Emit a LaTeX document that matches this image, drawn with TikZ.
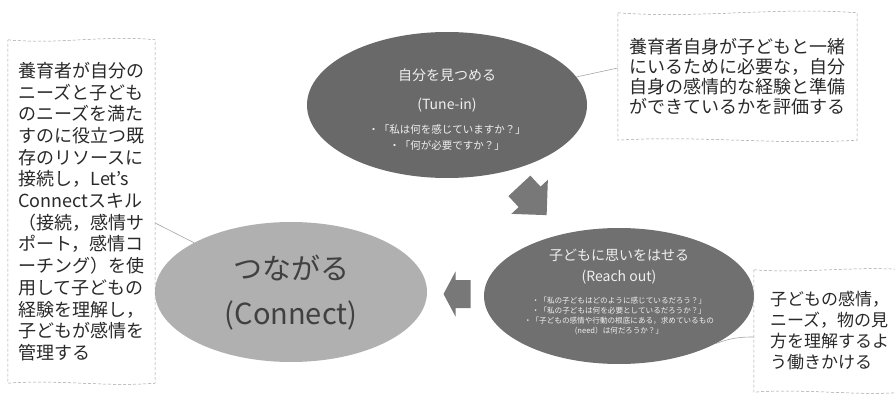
\documentclass[tikz,border=0pt]{standalone}
\usepackage{fontspec}
\setmainfont{Noto Sans CJK JP}
\usetikzlibrary{shapes.geometric,calc}

\definecolor{tunegray}{gray}{0.41}
\definecolor{reachgray}{gray}{0.44}
\definecolor{connectgray}{gray}{0.69}
\definecolor{arrowgray}{gray}{0.47}
\definecolor{inktext}{gray}{0.16}

\begin{document}
\begin{tikzpicture}[x=1pt,y=1pt,
    phase/.style={ellipse,inner sep=0pt,draw=none},
    lighttext/.style={text=gray!12,inner sep=0pt},
    boxtext/.style={align=left,inner sep=0pt,text=inktext},
    notebox/.style={draw=gray!75,densely dashed,line width=0.5pt},
    leader/.style={draw=gray!70,line width=0.6pt},
    blockarrow/.style={fill=arrowgray,draw=none}]
    \useasboundingbox (0,0) rectangle (895,397);

    % the three phases
    \node[phase,fill=tunegray,minimum width=280pt,minimum height=146pt] (tune) at (447,292) {};
    \node[phase,fill=reachgray,minimum width=270pt,minimum height=136pt] (reach) at (619,101) {};
    \node[phase,fill=connectgray,minimum width=272pt,minimum height=140pt] (connect) at (291,105) {};

    \node[lighttext,font=\fontsize{14}{16}\selectfont,yshift=30pt] (tunejp) at (tune) {自分を見つめる};
    \node[lighttext,font=\fontsize{14}{16}\selectfont] (tuneen) at (tune) {(Tune-in)};
    \node[lighttext,font=\fontsize{10.5}{16}\selectfont,align=center,yshift=-33pt] (tuneq) at (tune)
        {・「私は何を感じていますか？」\\・「何が必要ですか？」};

    \node[lighttext,font=\fontsize{14}{16}\selectfont,yshift=41pt] (reachjp) at (reach) {子どもに思いをはせる};
    \node[lighttext,font=\fontsize{14}{16}\selectfont,yshift=19pt] (reachen) at (reach) {(Reach out)};
    \node[lighttext,font=\fontsize{7.6}{10}\selectfont,align=center,yshift=-20pt] (reachq) at (reach)
        {・「私の子どもはどのように感じているだろう？」\\
         ・「私の子どもは何を必要としているだろうか？」\\
         ・「子どもの感情や行動の根底にある，求めているもの\\
         (need）は何だろうか？」};

    \node[text=black!75,inner sep=0pt,font=\fontsize{29}{32}\selectfont,yshift=24pt] (connectjp) at (connect) {つながる};
    \node[text=black!75,inner sep=0pt,font=\fontsize{29}{32}\selectfont,yshift=-23pt] (connecten) at (connect) {(Connect)};

    % block arrows between phases
    \coordinate (stepdown) at ($(tune)!0.5!(reach)$);
    \coordinate (stepleft) at ($(connect)!0.5!(reach)+(2,0)$);
    \begin{scope}[shift={(stepdown)},rotate=-47]
        \fill[blockarrow] (-20,15) -- (-5,15) -- (-5,25) -- (20,0) -- (-5,-25) -- (-5,-15) -- (-20,-15) -- cycle;
    \end{scope}
    \begin{scope}[shift={(stepleft)},rotate=180]
        \fill[blockarrow] (-13.5,14) -- (1.5,14) -- (1.5,22.5) -- (13.5,0) -- (1.5,-22.5) -- (1.5,-14) -- (-13.5,-14) -- cycle;
    \end{scope}

    % notes
    \node[boxtext,font=\fontsize{18}{21.7}\selectfont,minimum width=147pt,minimum height=343pt] (boxL) at (81.5,185.5)
        {養育者が自分の\\ニーズと子ども\\のニーズを満た\\すのに役立つ既\\存のリソースに\\接続し，Let’s\\Connectスキル\\（接続，感情サ\\ポート，感情コ\\ーチング）を使\\用して子どもの\\経験を理解し，\\子どもが感情を\\管理する};
    \node[boxtext,font=\fontsize{18}{20}\selectfont,minimum width=239pt,minimum height=127pt] (boxT) at (737.5,320.5)
        {養育者自身が子どもと一緒\\にいるために必要な，自分\\自身の感情的な経験と準備\\ができているかを評価する};
    \node[boxtext,font=\fontsize{17}{21}\selectfont,minimum width=151pt,minimum height=122pt] (boxR) at (829.5,66)
        {子どもの感情，\\ニーズ，物の見\\方を理解するよ\\う働きかける};

    \draw[notebox] (boxL.north west) .. controls +(50,-5) and +(-50,5) .. (boxL.north east)
        -- (boxL.south east) .. controls +(-50,-4) and +(50,4) .. (boxL.south west) -- cycle;
    \draw[notebox] (boxT.north west) .. controls +(80,-6) and +(-80,6) .. (boxT.north east)
        -- (boxT.south east) .. controls +(-80,-5) and +(80,5) .. (boxT.south west) -- cycle;
    \draw[notebox] (boxR.north west) .. controls +(50,-4) and +(-50,4) .. (boxR.north east)
        -- (boxR.south east) .. controls +(-50,-4) and +(50,4) .. (boxR.south west) -- cycle;

    % leaders
    \draw[leader] ([yshift=-11.5pt]boxL.east) -- (connect);
    \draw[leader] ([yshift=8.5pt]boxT.west) -- (tune);
    \draw[leader] ([yshift=-6pt]boxR.west) to[bend right=10] (reach.-26);
\end{tikzpicture}
\end{document}
